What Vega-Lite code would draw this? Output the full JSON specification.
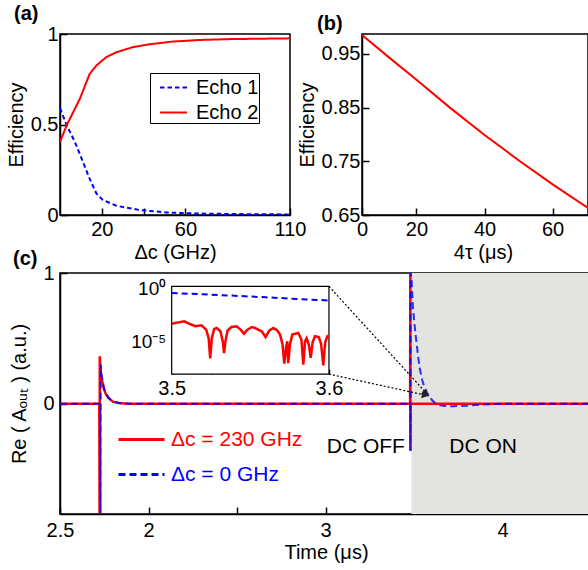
{
"$schema":"https://vega.github.io/schema/vega-lite/v6.json",
"autosize":{"type":"pad"},
"padding":{"left":5,"top":3,"right":0,"bottom":0},
"background":"white",
"spacing":-15,
"config":{
 "font":"Liberation Sans",
 "view":{"stroke":"black","strokeWidth":1.5},
 "axis":{"grid":false,"domainColor":"black","domainWidth":1.5,"tickColor":"black","tickWidth":1.5,"tickSize":-7,"labelPadding":9,"labelColor":"black","labelFontSize":20,"labelFont":"Liberation Sans","titleFont":"Liberation Sans","titleFontSize":20,"titleFontWeight":"normal","titleColor":"black","labelFlush":false,"labelOverlap":false},
 "title":{"fontSize":20,"fontWeight":"bold","anchor":"start","frame":"group","color":"black","font":"Liberation Sans"},
 "legend":{"labelFont":"Liberation Sans","labelColor":"black","labelFontSize":20}
},
"resolve":{"scale":{"color":"independent","strokeDash":"independent"}},
"vconcat":[
 {"bounds":"flush","spacing":72,"hconcat":[
  {
   "width":230,"height":181,
   "title":{"text":"(a)","dx":-46,"offset":0},
   "data":{"values":[
    {"delta":0,"eff":0.59,"echo":"Echo 1"},{"delta":3.2,"eff":0.496,"echo":"Echo 1"},{"delta":7.1,"eff":0.404,"echo":"Echo 1"},{"delta":11,"eff":0.293,"echo":"Echo 1"},{"delta":14.2,"eff":0.2,"echo":"Echo 1"},{"delta":17.4,"eff":0.119,"echo":"Echo 1"},{"delta":20.5,"eff":0.083,"echo":"Echo 1"},{"delta":26.9,"eff":0.051,"echo":"Echo 1"},{"delta":37.9,"eff":0.028,"echo":"Echo 1"},{"delta":50.5,"eff":0.014,"echo":"Echo 1"},{"delta":66.3,"eff":0.008,"echo":"Echo 1"},{"delta":85,"eff":0.005,"echo":"Echo 1"},{"delta":110,"eff":0.003,"echo":"Echo 1"},
    {"delta":0,"eff":0.404,"echo":"Echo 2"},{"delta":3.2,"eff":0.496,"echo":"Echo 2"},{"delta":9.5,"eff":0.642,"echo":"Echo 2"},{"delta":14.2,"eff":0.78,"echo":"Echo 2"},{"delta":17.4,"eff":0.826,"echo":"Echo 2"},{"delta":22.1,"eff":0.872,"echo":"Echo 2"},{"delta":26.9,"eff":0.899,"echo":"Echo 2"},{"delta":34.7,"eff":0.927,"echo":"Echo 2"},{"delta":42.7,"eff":0.943,"echo":"Echo 2"},{"delta":53.7,"eff":0.958,"echo":"Echo 2"},{"delta":66.4,"eff":0.967,"echo":"Echo 2"},{"delta":82,"eff":0.972,"echo":"Echo 2"},{"delta":110,"eff":0.976,"echo":"Echo 2"}
   ]},
   "mark":{"type":"line","strokeWidth":2,"clip":true},
   "encoding":{
    "x":{"field":"delta","type":"quantitative","scale":{"domain":[0,110],"nice":false,"zero":false},"axis":{"title":"Δc (GHz)","values":[20,40,60,110],"labelExpr":"datum.value == 40 ? '' : '' + datum.value","labelPadding":11,"titlePadding":3}},
    "y":{"field":"eff","type":"quantitative","scale":{"domain":[0,1],"nice":false},"axis":{"title":"Efficiency","values":[0,0.5,1],"labelExpr":"'' + datum.value","titlePadding":4}},
    "color":{"field":"echo","type":"nominal","scale":{"domain":["Echo 1","Echo 2"],"range":["#0000ff","#ff0000"]},"legend":{"title":null,"orient":"none","legendX":90,"legendY":39,"strokeColor":"black","fillColor":"white","padding":0,"symbolOffset":9,"symbolType":"stroke","symbolSize":729,"symbolStrokeWidth":2,"labelFontSize":20,"labelOffset":8,"rowPadding":-10,"labelExpr":"datum.label + '\u00a0\u00a0'"}},
    "strokeDash":{"field":"echo","type":"nominal","scale":{"domain":["Echo 1","Echo 2"],"range":[[4.5,3],[1,0]]},"legend":{"title":null,"orient":"none","legendX":90,"legendY":39,"strokeColor":"black","fillColor":"white","padding":0,"symbolOffset":9,"symbolType":"stroke","symbolSize":729,"symbolStrokeWidth":2,"labelFontSize":20,"labelOffset":8,"rowPadding":-10,"labelExpr":"datum.label + '\u00a0\u00a0'"}}
   }
  },
  {
   "width":226,"height":181,
   "title":{"text":"(b)","dx":-45,"offset":0},
   "data":{"values":[{"t":4,"eff":0.985},{"t":12,"eff":0.943},{"t":20,"eff":0.902},{"t":30,"eff":0.849},{"t":40,"eff":0.799},{"t":50,"eff":0.752},{"t":60,"eff":0.707},{"t":70.4,"eff":0.663}]},
   "mark":{"type":"line","color":"#ff0000","strokeWidth":2,"clip":true},
   "encoding":{
    "x":{"field":"t","type":"quantitative","scale":{"domain":[4,70.4],"nice":false,"zero":false},"axis":{"title":"4τ (μs)","values":[4,20,40,60],"labelExpr":"datum.value == 4 ? '0' : '' + datum.value","titleX":121,"labelPadding":11,"titlePadding":3}},
    "y":{"field":"eff","type":"quantitative","scale":{"domain":[0.65,0.987],"nice":false,"zero":false},"axis":{"title":"Efficiency","values":[0.65,0.75,0.85,0.95],"labelExpr":"format(datum.value, '.2f')","titlePadding":4}}
   }
  }
 ]},
 {
  "width":528,"height":241,
  "title":{"text":"(c)","dx":-47,"offset":-6},
  "resolve":{"scale":{"x":"independent","y":"independent"}},
  "layer":[
    {"data":{"values":[{"t":3.485,"t2":4.4825}]},
     "mark":{"type":"rect","fill":"#e3e3e0"},
     "encoding":{"x":{"field":"t","type":"quantitative","scale":{"domain":[1.5,4.4825],"nice":false,"zero":false},"axis":null},"x2":{"field":"t2"},"y":{"value":0},"y2":{"value":"height"}}},
    {"data":{"values":[
      {"t":1.5,"v":0,"series":"Δc = 230 GHz"},{"t":1.722,"v":0,"series":"Δc = 230 GHz"},{"t":1.7235,"v":-0.84,"series":"Δc = 230 GHz"},{"t":1.7247,"v":0.363,"series":"Δc = 230 GHz"},{"t":1.727,"v":0.3,"series":"Δc = 230 GHz"},{"t":1.732,"v":0.22,"series":"Δc = 230 GHz"},{"t":1.739,"v":0.17,"series":"Δc = 230 GHz"},{"t":1.747,"v":0.12,"series":"Δc = 230 GHz"},{"t":1.757,"v":0.08,"series":"Δc = 230 GHz"},{"t":1.77,"v":0.05,"series":"Δc = 230 GHz"},{"t":1.785,"v":0.03,"series":"Δc = 230 GHz"},{"t":1.8,"v":0.015,"series":"Δc = 230 GHz"},{"t":1.83,"v":0.005,"series":"Δc = 230 GHz"},{"t":1.87,"v":0.001,"series":"Δc = 230 GHz"},{"t":1.9,"v":0,"series":"Δc = 230 GHz"},{"t":3.4775,"v":0,"series":"Δc = 230 GHz"},{"t":3.479,"v":1,"series":"Δc = 230 GHz"},{"t":3.4795,"v":-0.36,"series":"Δc = 230 GHz"},{"t":3.481,"v":0,"series":"Δc = 230 GHz"},{"t":4.4825,"v":0,"series":"Δc = 230 GHz"}
     ]},
     "mark":{"type":"line","strokeWidth":2.5,"clip":true},
     "encoding":{
      "x":{"field":"t","type":"quantitative","scale":{"domain":[1.5,4.4825],"nice":false,"zero":false},"axis":{"orient":"bottom","title":"Time (μs)","values":[1.5,2,2.5,3,3.5,4],"labelExpr":"datum.value == 1.5 ? '2.5' : datum.value == 2 ? '2' : datum.value == 3 ? '3' : datum.value == 4 ? '4' : ''","titleX":266,"labelPadding":13,"titlePadding":2}},
      "y":{"field":"v","type":"quantitative","scale":{"domain":[-0.844,1],"nice":false,"zero":false},"axis":{"orient":"left","title":"Re ( Aₒᵤₜ ) (a.u.)","values":[0,1],"labelExpr":"'' + datum.value","labelPadding":13,"titlePadding":13}},
      "color":{"field":"series","type":"nominal","scale":{"domain":["Δc = 230 GHz","Δc = 0 GHz"],"range":["#ff0000","#0000ff"]},"legend":{"title":null,"orient":"none","legendX":57,"legendY":142,"symbolType":"stroke","symbolSize":2116,"symbolStrokeWidth":3,"labelFontSize":21,"labelOffset":5,"rowPadding":-20,"padding":0,"encode":{"labels":{"update":{"fill":{"signal":"datum.label === 'Δc = 230 GHz' ? '#ff0000' : '#0000ff'"}}}}}},
      "strokeDash":{"field":"series","type":"nominal","scale":{"domain":["Δc = 230 GHz","Δc = 0 GHz"],"range":[[1,0],[7,4]]},"legend":{"title":null,"orient":"none","legendX":57,"legendY":142,"symbolType":"stroke","symbolSize":2116,"symbolStrokeWidth":3,"labelFontSize":21,"labelOffset":5,"rowPadding":-20,"padding":0,"encode":{"labels":{"update":{"fill":{"signal":"datum.label === 'Δc = 230 GHz' ? '#ff0000' : '#0000ff'"}}}}}}
     }},
    {"data":{"values":[
      {"t":1.5,"v":0,"series":"Δc = 0 GHz"},{"t":1.728,"v":0,"series":"Δc = 0 GHz"},{"t":1.7295,"v":-0.84,"series":"Δc = 0 GHz"},{"t":1.7305,"v":0.3,"series":"Δc = 0 GHz"},{"t":1.735,"v":0.22,"series":"Δc = 0 GHz"},{"t":1.742,"v":0.16,"series":"Δc = 0 GHz"},{"t":1.75,"v":0.11,"series":"Δc = 0 GHz"},{"t":1.76,"v":0.075,"series":"Δc = 0 GHz"},{"t":1.775,"v":0.045,"series":"Δc = 0 GHz"},{"t":1.79,"v":0.025,"series":"Δc = 0 GHz"},{"t":1.81,"v":0.012,"series":"Δc = 0 GHz"},{"t":1.84,"v":0.004,"series":"Δc = 0 GHz"},{"t":1.9,"v":0,"series":"Δc = 0 GHz"},
      {"t":3.478,"v":0,"series":"Δc = 0 GHz"},{"t":3.4795,"v":-0.36,"series":"Δc = 0 GHz"},{"t":3.4805,"v":1,"series":"Δc = 0 GHz"},{"t":3.485,"v":0.97,"series":"Δc = 0 GHz"},{"t":3.489,"v":0.86,"series":"Δc = 0 GHz"},{"t":3.494,"v":0.73,"series":"Δc = 0 GHz"},{"t":3.503,"v":0.6,"series":"Δc = 0 GHz"},{"t":3.513,"v":0.477,"series":"Δc = 0 GHz"},{"t":3.522,"v":0.37,"series":"Δc = 0 GHz"},{"t":3.532,"v":0.273,"series":"Δc = 0 GHz"},{"t":3.545,"v":0.185,"series":"Δc = 0 GHz"},{"t":3.56,"v":0.12,"series":"Δc = 0 GHz"},{"t":3.575,"v":0.08,"series":"Δc = 0 GHz"},{"t":3.588,"v":0.057,"series":"Δc = 0 GHz"},{"t":3.6,"v":0.03,"series":"Δc = 0 GHz"},{"t":3.615,"v":0.01,"series":"Δc = 0 GHz"},{"t":3.635,"v":-0.008,"series":"Δc = 0 GHz"},{"t":3.67,"v":-0.017,"series":"Δc = 0 GHz"},{"t":3.72,"v":-0.02,"series":"Δc = 0 GHz"},{"t":3.79,"v":-0.015,"series":"Δc = 0 GHz"},{"t":3.87,"v":-0.008,"series":"Δc = 0 GHz"},{"t":3.95,"v":-0.002,"series":"Δc = 0 GHz"},{"t":4.05,"v":0,"series":"Δc = 0 GHz"},{"t":4.4825,"v":0,"series":"Δc = 0 GHz"}
     ]},
     "mark":{"type":"line","strokeWidth":2,"clip":true,"opacity":0.8},
     "encoding":{
      "x":{"field":"t","type":"quantitative","scale":{"domain":[1.5,4.4825],"nice":false,"zero":false},"axis":null},
      "y":{"field":"v","type":"quantitative","scale":{"domain":[-0.844,1],"nice":false,"zero":false},"axis":null},
      "color":{"field":"series","type":"nominal","scale":{"domain":["Δc = 230 GHz","Δc = 0 GHz"],"range":["#ff0000","#0000ff"]}},
      "strokeDash":{"field":"series","type":"nominal","scale":{"domain":["Δc = 230 GHz","Δc = 0 GHz"],"range":[[1,0],[7,4]]}}
     }},
    {"data":{"values":[{"label":"DC OFF","t":3.2276,"v":-0.33},{"label":"DC ON","t":3.89,"v":-0.33}]},
     "mark":{"type":"text","fontSize":21,"color":"black","font":"Liberation Sans","align":"center","baseline":"middle"},
     "encoding":{"x":{"field":"t","type":"quantitative","scale":{"domain":[1.5,4.4825],"nice":false,"zero":false},"axis":null},"y":{"field":"v","type":"quantitative","scale":{"domain":[-0.844,1],"nice":false,"zero":false},"axis":null},"text":{"field":"label"}}},
    {"data":{"values":[{"ti":3.5,"ti2":3.6,"ai":8.5e-9,"ai2":1.445}]},
     "mark":{"type":"rect","fill":"white","stroke":"black","strokeWidth":1.2},
     "encoding":{"x":{"field":"ti","type":"quantitative","scale":{"domain":[3.429,3.7647],"nice":false,"zero":false},"axis":null},"x2":{"field":"ti2"},"y":{"field":"ai","type":"quantitative","scale":{"type":"log","domain":[6.46e-22,25.7],"nice":false},"axis":null},"y2":{"field":"ai2"}}},
    {"data":{"values":[{"ti":3.5,"ai":0.34},{"ti":3.52,"ai":0.26},{"ti":3.54,"ai":0.19},{"ti":3.56,"ai":0.135},{"ti":3.58,"ai":0.095},{"ti":3.6,"ai":0.068}]},
     "mark":{"type":"line","color":"#0000ff","strokeDash":[6,4],"strokeWidth":2},
     "encoding":{"x":{"field":"ti","type":"quantitative","scale":{"domain":[3.429,3.7647],"nice":false,"zero":false},"axis":null},"y":{"field":"ai","type":"quantitative","scale":{"type":"log","domain":[6.46e-22,25.7],"nice":false},"axis":null}}},
    {"data":{"values":[
      {"ti":3.5,"ai":4.5e-4},{"ti":3.504,"ai":6e-4},{"ti":3.508,"ai":7.5e-4},{"ti":3.512,"ai":4e-4},{"ti":3.515,"ai":2.6e-4},{"ti":3.519,"ai":3.2e-4},{"ti":3.522,"ai":1.2e-4},{"ti":3.5235,"ai":2e-5},{"ti":3.5245,"ai":2.5e-7},{"ti":3.5255,"ai":2e-5},{"ti":3.527,"ai":1.4e-4},{"ti":3.5286,"ai":1.8e-4},{"ti":3.531,"ai":9e-5},{"ti":3.5325,"ai":1e-5},{"ti":3.5333,"ai":8e-7},{"ti":3.5342,"ai":1e-5},{"ti":3.5355,"ai":1e-4},{"ti":3.538,"ai":2.2e-4},{"ti":3.5413,"ai":2.6e-4},{"ti":3.544,"ai":1.2e-4},{"ti":3.546,"ai":5.2e-5},{"ti":3.548,"ai":1.2e-4},{"ti":3.551,"ai":2.2e-4},{"ti":3.553,"ai":1.8e-4},{"ti":3.555,"ai":1.26e-4},{"ti":3.5575,"ai":8e-5},{"ti":3.5597,"ai":2.5e-5},{"ti":3.562,"ai":1e-4},{"ti":3.5646,"ai":1.8e-4},{"ti":3.567,"ai":1.1e-4},{"ti":3.5689,"ai":4.3e-5},{"ti":3.5705,"ai":5e-6},{"ti":3.5716,"ai":8e-8},{"ti":3.5728,"ai":3e-6},{"ti":3.5735,"ai":1e-5},{"ti":3.5741,"ai":9e-8},{"ti":3.5752,"ai":5e-6},{"ti":3.5767,"ai":4.3e-5},{"ti":3.5805,"ai":6e-5},{"ti":3.5825,"ai":1.5e-5},{"ti":3.5837,"ai":6.5e-8},{"ti":3.5848,"ai":1e-5},{"ti":3.5858,"ai":2e-5},{"ti":3.5872,"ai":5e-6},{"ti":3.5884,"ai":2.8e-7},{"ti":3.5896,"ai":8e-6},{"ti":3.5911,"ai":3e-5},{"ti":3.5935,"ai":2.5e-5},{"ti":3.595,"ai":6e-6},{"ti":3.5964,"ai":5.6e-8},{"ti":3.5976,"ai":8e-6},{"ti":3.599,"ai":3e-5},{"ti":3.6,"ai":3.5e-5}
     ]},
     "mark":{"type":"line","color":"#ff0000","strokeWidth":2.5},
     "encoding":{
      "x":{"field":"ti","type":"quantitative","scale":{"domain":[3.429,3.7647],"nice":false,"zero":false},"axis":{"orient":"bottom","offset":-140,"domain":false,"values":[3.5,3.525,3.575,3.6],"labelExpr":"datum.value == 3.5 ? '3.5' : datum.value == 3.6 ? '3.6' : ''","tickSize":-5,"labelPadding":9,"title":null}},
      "y":{"field":"ai","type":"quantitative","scale":{"type":"log","domain":[6.46e-22,25.7],"nice":false},"axis":{"orient":"left","offset":-111.7,"domain":false,"values":[1,0.1,0.01,0.001,0.0001,0.00001,0.000001,1e-7,1e-8],"labelExpr":"datum.value == 1 ? '10⁰' : datum.value == 0.00001 ? '10⁻⁵' : ''","tickSize":-4,"labelPadding":10,"labelFontSize":19,"title":null}}
     }},
    {"data":{"values":[{"ti":3.6,"ai":1.445,"ti2":3.6636,"ai2":7.6e-11},{"ti":3.6,"ai":8.5e-9,"ti2":3.6636,"ai2":7.6e-11}]},
     "mark":{"type":"rule","color":"black","strokeDash":[2,2],"strokeWidth":1.2},
     "encoding":{"x":{"field":"ti","type":"quantitative","scale":{"domain":[3.429,3.7647],"nice":false,"zero":false},"axis":null},"x2":{"field":"ti2"},"y":{"field":"ai","type":"quantitative","scale":{"type":"log","domain":[6.46e-22,25.7],"nice":false},"axis":null},"y2":{"field":"ai2"}}},
    {"data":{"values":[{"ti":3.6615,"ai":1.2e-10}]},
     "mark":{"type":"point","shape":"triangle-right","filled":true,"color":"#222222","opacity":1,"size":60,"angle":47},
     "encoding":{"x":{"field":"ti","type":"quantitative","scale":{"domain":[3.429,3.7647],"nice":false,"zero":false},"axis":null},"y":{"field":"ai","type":"quantitative","scale":{"type":"log","domain":[6.46e-22,25.7],"nice":false},"axis":null}}},
    {"data":{"values":[{"ti":3.6612,"ai":9e-11}]},
     "mark":{"type":"point","shape":"triangle-right","filled":true,"color":"#222222","opacity":1,"size":60,"angle":12},
     "encoding":{"x":{"field":"ti","type":"quantitative","scale":{"domain":[3.429,3.7647],"nice":false,"zero":false},"axis":null},"y":{"field":"ai","type":"quantitative","scale":{"type":"log","domain":[6.46e-22,25.7],"nice":false},"axis":null}}}
  ]
 }
]
}
